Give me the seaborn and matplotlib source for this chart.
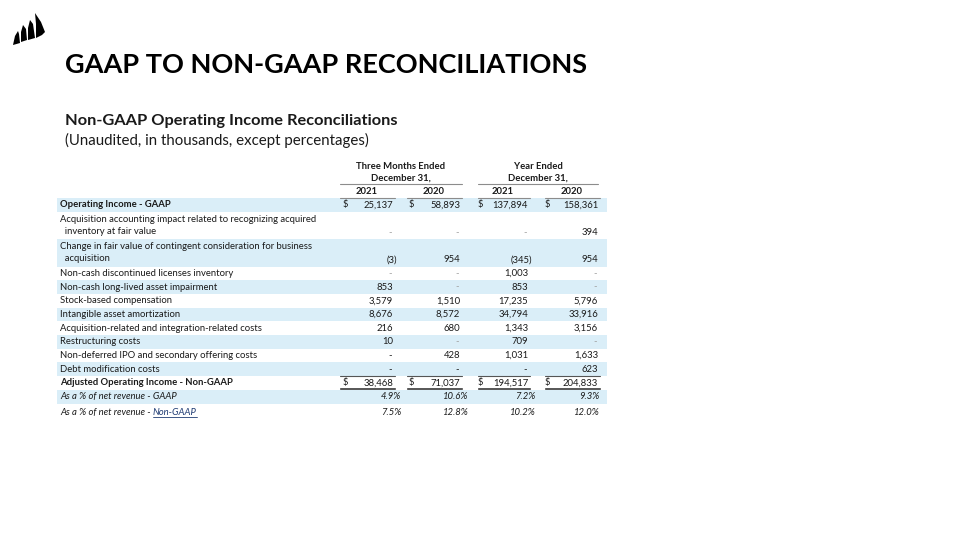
import matplotlib
matplotlib.use("Agg")
import matplotlib.pyplot as plt
import seaborn as sns
from matplotlib.patches import Polygon

# ---- data -------------------------------------------------------------
row_labels = [
    "Operating Income - GAAP",
    "Acquisition accounting impact related to recognizing acquired\n  inventory at fair value",
    "Change in fair value of contingent consideration for business\n  acquisition",
    "Non-cash discontinued licenses inventory",
    "Non-cash long-lived asset impairment",
    "Stock-based compensation",
    "Intangible asset amortization",
    "Acquisition-related and integration-related costs",
    "Restructuring costs",
    "Non-deferred IPO and secondary offering costs",
    "Debt modification costs",
    "Adjusted Operating Income - Non-GAAP",
]
# None -> light dash, 0 -> dark dash
q4_2021 = [25137, None, -3, None, 853, 3579, 8676, 216, 10, 0, 0, 38468]
q4_2020 = [58893, None, 954, None, None, 1510, 8572, 680, None, 428, 0, 71037]
fy_2021 = [137894, None, -345, 1003, 853, 17235, 34794, 1343, 709, 1031, 0, 194517]
fy_2020 = [158361, 394, 954, None, None, 5796, 33916, 3156, None, 1633, 623, 204833]
pct_gaap = [4.9, 10.6, 7.2, 9.3]
pct_nongaap = [7.5, 12.8, 10.2, 12.0]
pct_labels = ["As a % of net revenue - GAAP", "As a % of net revenue - "]
years = ["2021", "2020", "2021", "2020"]
groups = ["Three Months Ended\nDecember 31,", "Year Ended\nDecember 31,"]

# ---- style ------------------------------------------------------------
sns.set_theme(style="white")
plt.rcParams["font.family"] = ["Lato", "DejaVu Sans"]
band = "#DAEEF8"
ink = "#1a1a1a"
light = "#a0a0a0"
fs = 6.8

fig = plt.figure(figsize=(9.6, 5.4), dpi=100)
ax = fig.add_axes([0, 0, 1, 1])
ax.set_xlim(0, 960)
ax.set_ylim(540, 0)
ax.axis("off")

# logo: four sails
sails = [
    [(13, 45), (15, 36), (18, 31), (19, 34), (20, 43)],
    [(21, 42), (21, 32), (23, 25), (26, 29), (27, 40)],
    [(28, 40), (28, 28), (30, 20), (33, 24), (35, 38)],
    [(36, 38), (36, 24), (35, 13), (41, 22), (45, 32), (42, 35)],
]
for s in sails:
    ax.add_patch(Polygon(s, closed=True, color="black", lw=0))

ax.text(65, 65, "GAAP TO NON-GAAP RECONCILIATIONS", fontsize=19.5,
        fontweight="bold", color="black", va="center")
ax.text(65, 121, "Non-GAAP Operating Income Reconciliations", fontsize=11.8,
        fontweight="bold", color=ink, va="center")
ax.text(65, 140, "(Unaudited, in thousands, except percentages)", fontsize=10.8,
        color=ink, va="center")

# column geometry
dollar_x = [343, 409, 478, 545]
right_x = [393, 460, 528, 598]
pct_x = [401, 468, 535, 599]
col_left = [340, 407, 478, 545]
group_span = [(340, 462), (478, 598)]

# headers
for (x0, x1), g in zip(group_span, groups):
    ax.text((x0 + x1) / 2, 172.5, g, fontsize=fs, fontweight="bold",
            ha="center", va="center", color=ink, linespacing=1.35)
    ax.plot([x0, x1], [184, 184], color="#8c8c8c", lw=0.8)
for i, y in enumerate(years):
    ax.text((col_left[i] + right_x[i]) / 2, 192, y, fontsize=fs,
            fontweight="bold", ha="center", va="center", color=ink)
    ax.plot([col_left[i], right_x[i] + 2], [197.5, 197.5], color="#8c8c8c", lw=0.8)

# rows
heights = [13.7 * (2 if "\n" in lab else 1) for lab in row_labels] + [14, 18]
tops = [198]
for h in heights[:-1]:
    tops.append(tops[-1] + h)

cols = [q4_2021, q4_2020, fy_2021, fy_2020]
n = len(row_labels)
for r in range(n + 2):
    top, h = tops[r], heights[r]
    yc = top + h / 2
    if r % 2 == 0:
        ax.barh(yc, 550, height=h, left=57, color=band, lw=0)
    if r < n:
        lab = row_labels[r]
        bold = r in (0, n - 1)
        ax.text(60, yc, lab, fontsize=fs, va="center", color=ink,
                fontweight="bold" if bold else "normal", linespacing=1.45)
        yv = yc + (h / 4 if "\n" in lab else 0)
        for c in range(4):
            v = cols[c][r]
            if v is None:
                ax.text(right_x[c] - 3, yv, "-", fontsize=fs, ha="center",
                        va="center", color=light)
            elif v == 0:
                ax.text(right_x[c] - 3, yv, "-", fontsize=fs, ha="center",
                        va="center", color=ink)
            elif v < 0:
                ax.text(right_x[c] + 4.5, yv, f"({-v:,})", fontsize=fs,
                        ha="right", va="center", color=ink)
            else:
                ax.text(right_x[c], yv, f"{v:,}", fontsize=fs, ha="right",
                        va="center", color=ink)
            if bold:
                ax.text(dollar_x[c], yv, "$", fontsize=fs, va="center", color=ink)
    else:
        vals = pct_gaap if r == n else pct_nongaap
        ax.text(60, yc, pct_labels[r - n], fontsize=fs, va="center",
                style="italic", color=ink)
        for c in range(4):
            ax.text(pct_x[c], yc, f"{vals[c]:.1f}%", fontsize=fs, ha="right",
                    va="center", style="italic", color=ink)

# total lines
t_top = tops[n - 1]
t_bot = tops[n - 1] + heights[n - 1]
for c in range(4):
    x0, x1 = col_left[c], right_x[c] + 2
    ax.plot([x0, x1], [t_top, t_top], color="#555555", lw=0.8)
    ax.plot([x0, x1], [t_bot - 2.2, t_bot - 2.2], color="#555555", lw=0.7)
    ax.plot([x0, x1], [t_bot - 0.4, t_bot - 0.4], color="#555555", lw=0.7)

# underlined "Non-GAAP" after the last label
fig.canvas.draw()
rend = fig.canvas.get_renderer()
last = ax.texts[-5]
bb = last.get_window_extent(rend)
x_end = ax.transData.inverted().transform((bb.x1, bb.y0))[0]
yc = tops[n + 1] + heights[n + 1] / 2
t = ax.text(x_end, yc, "Non-GAAP", fontsize=fs, va="center", style="italic",
            color="#1f3b73")
bb2 = t.get_window_extent(rend)
x2 = ax.transData.inverted().transform((bb2.x1, bb2.y0))[0]
ax.plot([x_end, x2], [yc + 4, yc + 4], color="#1f3b73", lw=0.6)

fig.savefig("out.png", dpi=100)
